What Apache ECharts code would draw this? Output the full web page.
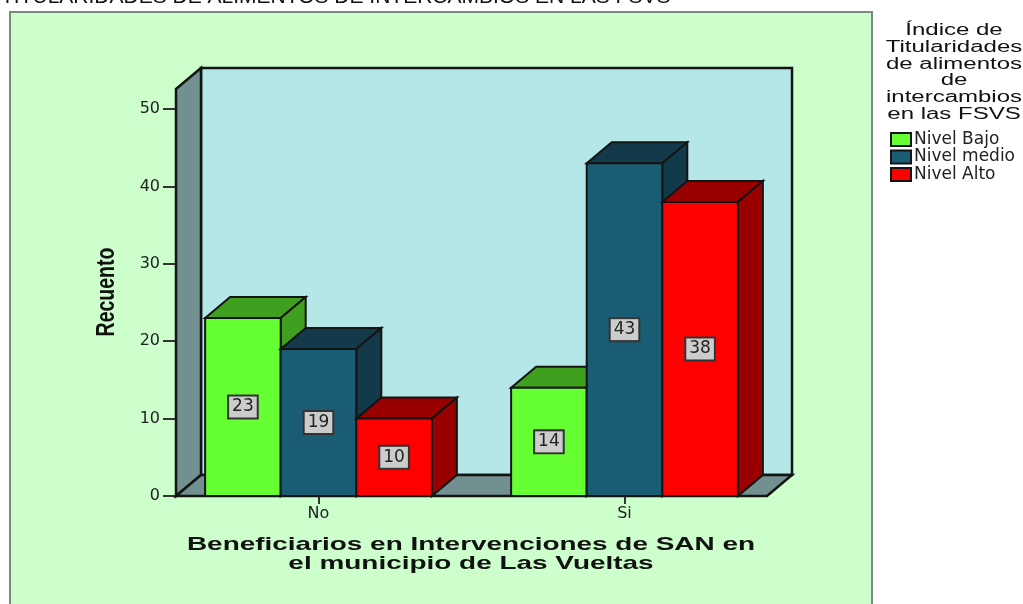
<!DOCTYPE html>
<html>
<head>
<meta charset="utf-8">
<style>
  html, body { margin: 0; padding: 0; background: #fff; overflow: hidden; }
  #chart { width: 1023px; height: 604px; }
</style>
</head>
<body>
<div id="chart"></div>
<script src="https://cdn.jsdelivr.net/npm/echarts@6/dist/echarts.min.js"></script>
<script>
const categories = ["No", "Si"];
const nivelBajo = [23, 14];
const nivelMedio = [19, 43];
const nivelAlto = [10, 38];
const levelNames = ["Nivel Bajo", "Nivel medio", "Nivel Alto"];
const yTicks = [0, 10, 20, 30, 40, 50];
const yMax = 52.6;

const pageTitle = "TITULARIDADES DE ALIMENTOS DE INTERCAMBIOS EN LAS FSVS";
const legendTitle = "Índice de\nTitularidades\nde alimentos\nde\nintercambios\nen las FSVS";
const xName = "Beneficiarios en Intervenciones de SAN en\nel municipio de Las Vueltas";
const yName = "Recuento";

// look of the fake 3d box
const depthX = 25;
const depthY = 21;
const floorInset = 10.5;
const barRatio = 0.247;
const edge = "#141414";
const frontColors = ["#66ff33", "#1b5c75", "#ff0000"];
const darkColors = ["#3f9f1f", "#133a4a", "#990000"];
const font = "DejaVu Sans";
const sans = "Liberation Sans";

function poly(points, fill, width) {
  return {
    type: "polygon",
    shape: { points: points },
    style: { fill: fill, stroke: edge, lineWidth: width },
  };
}

function renderWalls(params, api) {
  const band = api.size([1, 0])[0];
  const left = api.coord([0, 0])[0] - band / 2 + floorInset;
  const right = api.coord([1, 0])[0] + band / 2 - floorInset;
  const y0 = api.coord([0, 0])[1];
  const yTop = api.coord([0, yMax])[1];
  return {
    type: "group",
    children: [
      poly([[left + depthX, yTop - depthY], [right + depthX, yTop - depthY], [right + depthX, y0 - depthY], [left + depthX, y0 - depthY]], "#b5e6e8", 2.5),
      poly([[left, yTop], [left + depthX, yTop - depthY], [left + depthX, y0 - depthY], [left, y0]], "#72908f", 2.5),
      poly([[left, y0], [left + depthX, y0 - depthY], [right + depthX, y0 - depthY], [right, y0]], "#72908f", 2.5),
    ],
  };
}

function renderBox(level) {
  return function (params, api) {
    const band = api.size([1, 0])[0];
    const w = band * barRatio;
    const base = api.coord([api.value(0), 0]);
    const top = api.coord([api.value(0), api.value(1)]);
    const x = base[0] + (level - 1.5) * w;
    const y = top[1];
    const y0 = base[1];
    return {
      type: "group",
      children: [
        poly([[x, y], [x + depthX, y - depthY], [x + w + depthX, y - depthY], [x + w, y]], darkColors[level], 2),
        poly([[x + w, y], [x + w + depthX, y - depthY], [x + w + depthX, y0 - depthY], [x + w, y0]], darkColors[level], 2),
        poly([[x, y], [x + w, y], [x + w, y0], [x, y0]], frontColors[level], 2),
        {
          type: "text",
          style: {
            text: String(api.value(1)),
            x: x + w / 2,
            y: (y + y0) / 2,
            align: "center",
            verticalAlign: "middle",
            fontFamily: font,
            fontSize: 17,
            fill: "#222",
            backgroundColor: "#cccccc",
            borderColor: "#333",
            borderWidth: 2,
            padding: [2, 3],
          },
        },
      ],
    };
  };
}

function boxSeries(level, values) {
  return {
    name: levelNames[level],
    type: "custom",
    z: 3 + level,
    clip: false,
    renderItem: renderBox(level),
    encode: { x: 0, y: 1 },
    itemStyle: { color: frontColors[level], borderColor: edge, borderWidth: 2 },
    data: values.map((v, i) => [i, v]),
  };
}

// stretched real text, the picture's fonts are wider than anything installed
function stretched(text, x, y, scaleX, scaleY, fontSize, weight, lineHeight, rotation) {
  return {
    type: "text",
    z: 10,
    x: x,
    y: y,
    scaleX: scaleX,
    scaleY: scaleY,
    rotation: rotation || 0,
    style: {
      text: text,
      x: 0,
      y: 0,
      align: "center",
      verticalAlign: "middle",
      fontFamily: sans,
      fontSize: fontSize,
      fontWeight: weight,
      lineHeight: lineHeight,
      fill: "#111",
    },
  };
}

const chart = echarts.init(document.getElementById("chart"), null, { renderer: "canvas" });
chart.setOption({
  animation: false,
  backgroundColor: "#ffffff",
  graphic: [
    {
      type: "rect",
      z: 0,
      shape: { x: 10, y: 12, width: 862, height: 610 },
      style: { fill: "#ccffcc", stroke: "#7b8a7b", lineWidth: 2 },
    },
    stretched(legendTitle, 954, 72.5, 1.5, 1, 16, "normal", 16.7),
    stretched(xName, 471, 554.5, 1.47, 1, 19, "bold", 19),
    stretched(yName, 107, 292, 0.75, 1, 26, "bold", 26, Math.PI / 2),
  ],
  title: {
    text: pageTitle,
    left: -4,
    top: -18,
    textStyle: { fontFamily: sans, fontSize: 21, fontWeight: "normal", color: "#111" },
  },
  legend: {
    orient: "vertical",
    left: 890,
    top: 131,
    itemWidth: 20,
    itemHeight: 13,
    itemGap: 0.5,
    padding: 0,
    selectedMode: false,
    icon: "rect",
    data: levelNames,
    textStyle: { fontFamily: font, fontSize: 17, lineHeight: 13, color: "#222", padding: [0, 0, 0, -2] },
  },
  grid: { left: 165.5, top: 89, width: 612, height: 407 },
  xAxis: {
    type: "category",
    data: categories,
    axisLine: { show: false },
    axisTick: { show: true, alignWithLabel: true, length: 8, lineStyle: { color: "#333", width: 2 } },
    axisLabel: { fontFamily: font, fontSize: 16, color: "#222", margin: 10 },
  },
  yAxis: {
    type: "value",
    min: 0,
    max: yMax,
    interval: 10,
    offset: -10.5,
    splitLine: { show: false },
    axisLine: { show: true, lineStyle: { color: edge, width: 2.5 } },
    axisTick: { show: true, length: 13, customValues: yTicks, lineStyle: { color: "#333", width: 2 } },
    axisLabel: { fontFamily: font, fontSize: 16, color: "#222", margin: 16, customValues: yTicks },
  },
  series: [
    {
      type: "custom",
      z: 2,
      silent: true,
      clip: false,
      renderItem: renderWalls,
      encode: { x: 0, y: 1 },
      data: [[0, 0]],
    },
    boxSeries(0, nivelBajo),
    boxSeries(1, nivelMedio),
    boxSeries(2, nivelAlto),
  ],
});
</script>
</body>
</html>
